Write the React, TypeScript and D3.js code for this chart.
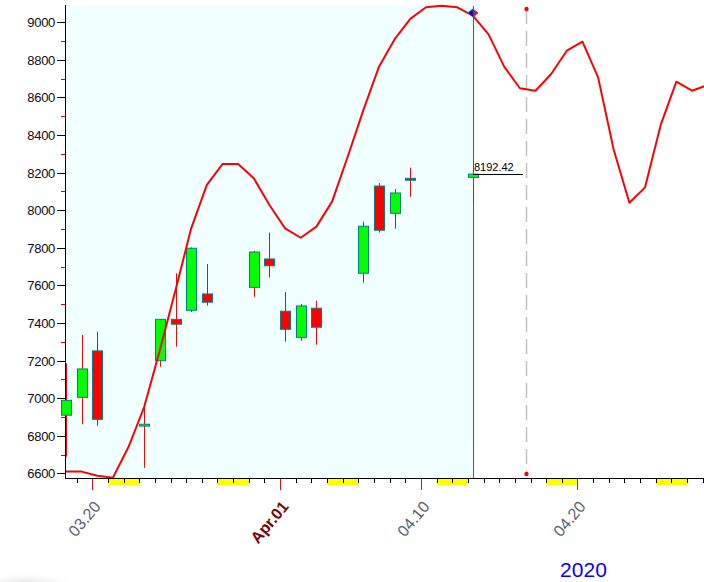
import React from "react";
import * as d3 from "d3";

const W = 704;
const H = 582;

// Candles (trading days)
const candleDates = ["2020-03-18","2020-03-19","2020-03-20","2020-03-23","2020-03-24","2020-03-25","2020-03-26","2020-03-27","2020-03-30","2020-03-31","2020-04-01","2020-04-02","2020-04-03","2020-04-06","2020-04-07","2020-04-08","2020-04-09","2020-04-13"];
const opens  = [6910,7005,7252,6852,7200,7420,7468,7555,7590,7741,7463,7324,7479,7665,8129,7984,8170,8175];
const highs  = [7186,7337,7354,6960,7420,7665,7803,7714,7785,7881,7565,7502,7519,7939,8145,8113,8227,8192.42];
const lows   = [6689,6862,6854,6630,7168,7275,7459,7493,7540,7642,7301,7306,7285,7615,7881,7902,8072,8037];
const closes = [6989,7156,6888,6862,7420,7394,7798,7511,7778,7705,7367,7491,7378,7915,7894,8092,8160,8192.42];

// Red curve, one value per calendar day from 2020-03-18
const curveStart = "2020-03-18";
const curveValues = [6610,6610,6588,6578,6742,6955,7257,7576,7904,8135,8246,8246,8170,8028,7904,7854,7913,8046,8285,8533,8764,8910,9018,9080,9088,9080,9035,8936,8764,8649,8636,8725,8849,8897,8707,8321,8040,8122,8454,8684,8636,8666];

const weekendStarts = ["2020-03-21","2020-03-28","2020-04-04","2020-04-11","2020-04-18","2020-04-25"];
const majorTicks = [
  { date: "2020-03-20", label: "03.20", kind: "normal" },
  { date: "2020-04-01", label: "Apr.01", kind: "month" },
  { date: "2020-04-10", label: "04.10", kind: "normal" },
  { date: "2020-04-20", label: "04.20", kind: "normal" },
];
const yMajorTicks = [6600,6800,7000,7200,7400,7600,7800,8000,8200,8400,8600,8800,9000];
const yMinorTicks = [6700,6900,7100,7300,7500,7700,7900,8100,8300,8500,8700,8900];
const lastPrice = 8192.42;
const markerValue = 9050;
const yearLabel = "2020";

const DAY = 864e5;
const parse = (s: string) => {
  const [y, m, d] = s.split("-").map(Number);
  return new Date(Date.UTC(y, m - 1, d));
};
const addDays = (d: Date, n: number) => new Date(d.getTime() + n * DAY);

export default function App() {
  const left = 65, right = 704, top = 5, bottom = 478;
  const ref = parse("2020-03-20");
  const x = d3.scaleUtc()
    .domain([addDays(ref, -1.744), addDays(ref, 39.085)])
    .range([left, right]);
  const y = d3.scaleLinear().domain([6576, 9092]).range([bottom, top]);
  const shift = 5;
  const cx = (d: Date) => x(d) + shift;

  const allTicks = d3.utcDay.range(addDays(ref, -1), addDays(ref, 40));
  const cStart = parse(curveStart);
  const curvePts: [number, number][] = curveValues.map((v, i) => [cx(addDays(cStart, i)), y(v)]);
  const line = d3.line();

  const lastDate = parse(candleDates[candleDates.length - 1]);
  const lastX = cx(lastDate);
  const dashX = x(new Date(Date.UTC(2020, 3, 16, 17)));
  const mY = y(markerValue);

  return (
    <svg width={W} height={H} style={{ position: "fixed", left: 0, top: 0, background: "#fff" }}
      fontFamily="'Liberation Sans', Arial, sans-serif">
      <defs>
        <radialGradient id="shadow" cx="0.5" cy="0.5" r="0.5">
          <stop offset="0" stopColor="#d8d8d8" stopOpacity="0.9" />
          <stop offset="1" stopColor="#ffffff" stopOpacity="0" />
        </radialGradient>
        <clipPath id="plotclip">
          <rect x={left} y={0} width={right - left} height={bottom} />
        </clipPath>
      </defs>
      <rect x={0} y={0} width={W} height={H} fill="#fff" />
      <ellipse cx={25} cy={584} rx={55} ry={12} fill="url(#shadow)" />
      {/* plot background */}
      <rect x={left} y={top} width={lastX - left} height={bottom - top} fill="#f0ffff" />

      {/* weekend blocks */}
      {weekendStarts.map((s) => {
        const d = parse(s);
        return <rect key={s} x={x(d)} y={bottom} width={x(addDays(d, 2)) - x(d)} height={7} fill="#ffff00" />;
      })}

      {/* x ticks */}
      {allTicks.map((d) => {
        const xx = Math.round(x(d)) + 0.5;
        if (xx < left || xx > right) return null;
        return <line key={d.getTime()} x1={xx} x2={xx} y1={bottom} y2={bottom + 5} stroke="#000" strokeWidth={1} />;
      })}
      {majorTicks.map((t) => {
        const xx = Math.round(x(parse(t.date))) + 0.5;
        return (
          <g key={t.label}>
            <line x1={xx} x2={xx} y1={bottom} y2={bottom + 12} stroke="#ff0000" strokeWidth={1} />
            <text
              transform={`translate(${xx + 9},${bottom + 29}) rotate(-50)`}
              textAnchor="end"
              fontSize={16}
              fontWeight={t.kind === "month" ? "bold" : "normal"}
              fill={t.kind === "month" ? "#800000" : "#56606c"}
            >{t.label}</text>
          </g>
        );
      })}

      {/* y ticks */}
      {yMinorTicks.map((v) => {
        const yy = Math.round(y(v)) + 0.5;
        return <line key={v} x1={left - 4} x2={left} y1={yy} y2={yy} stroke="#cc0000" strokeWidth={1} />;
      })}
      {yMajorTicks.map((v) => {
        const yy = Math.round(y(v)) + 0.5;
        return (
          <g key={v}>
            <line x1={left - 8} x2={left} y1={yy} y2={yy} stroke="#000" strokeWidth={1} />
            <text x={left - 10} y={yy + 4.5} textAnchor="end" fontSize={13} letterSpacing={-0.3} fill="#0a0a1e">{v}</text>
          </g>
        );
      })}

      {/* axes */}
      <line x1={left + 0.5} x2={left + 0.5} y1={top} y2={bottom} stroke="#000" strokeWidth={1} />
      <line x1={left} x2={right} y1={bottom + 0.5} y2={bottom + 0.5} stroke="#000" strokeWidth={1} />

      {/* vertical current line */}
      <line x1={Math.round(lastX) + 0.5} x2={Math.round(lastX) + 0.5} y1={top + 1} y2={bottom} stroke="#008080" strokeWidth={1} />

      {/* dashed future line */}
      <line x1={Math.round(dashX) + 0.5} x2={Math.round(dashX) + 0.5} y1={9} y2={bottom - 4} stroke="#c0c0c0" strokeWidth={1.5} strokeDasharray="15,7" />
      <circle cx={Math.round(dashX) + 0.5} cy={9} r={2.2} fill="#ff0000" />
      <circle cx={Math.round(dashX) + 0.5} cy={bottom - 4} r={2.2} fill="#ff0000" />

      {/* candles */}
      {candleDates.map((s, i) => {
        const c = Math.round(cx(parse(s))) + 0.5;
        const o = opens[i], cl = closes[i];
        const up = cl >= o;
        const yTop = y(Math.max(o, cl));
        const yBot = y(Math.min(o, cl));
        return (
          <g key={s}>
            <line x1={c} x2={c} y1={y(highs[i])} y2={y(lows[i])} stroke="#ff0000" strokeWidth={1} />
            <rect x={c - 5} y={yTop} width={10} height={Math.max(1, yBot - yTop)}
              fill={up ? "#00ff00" : "#ff0000"} stroke="#008080" strokeWidth={1} />
          </g>
        );
      })}

      {/* red curve */}
      <g clipPath="url(#plotclip)">
        <path d={line(curvePts) || ""} fill="none" stroke="#ff0000" strokeWidth={2} strokeLinejoin="round" />
      </g>

      {/* last price label */}
      <line x1={lastX} x2={lastX + 50} y1={Math.round(y(lastPrice)) + 0.5} y2={Math.round(y(lastPrice)) + 0.5} stroke="#000" strokeWidth={1} />
      <text x={lastX + 1} y={y(lastPrice) - 3} fontSize={11} fill="#000">{lastPrice.toFixed(2)}</text>

      {/* diamond marker */}
      <path d={`M${lastX},${mY - 4} L${lastX},${mY + 4} L${lastX - 5},${mY} Z`} fill="#0000ff" />
      <path d={`M${lastX},${mY - 4} L${lastX + 5},${mY} L${lastX},${mY + 4} Z`} fill="#ff0000" />
      <path d={`M${lastX},${mY - 4} L${lastX + 5},${mY} L${lastX},${mY + 4} L${lastX - 5},${mY} Z`} fill="none" stroke="#008080" strokeWidth={1} />

      {/* year */}
      <text x={x(parse("2020-04-20")) + 6} y={577} textAnchor="middle" fontSize={21} fill="#0000ff">{yearLabel}</text>
    </svg>
  );
}
